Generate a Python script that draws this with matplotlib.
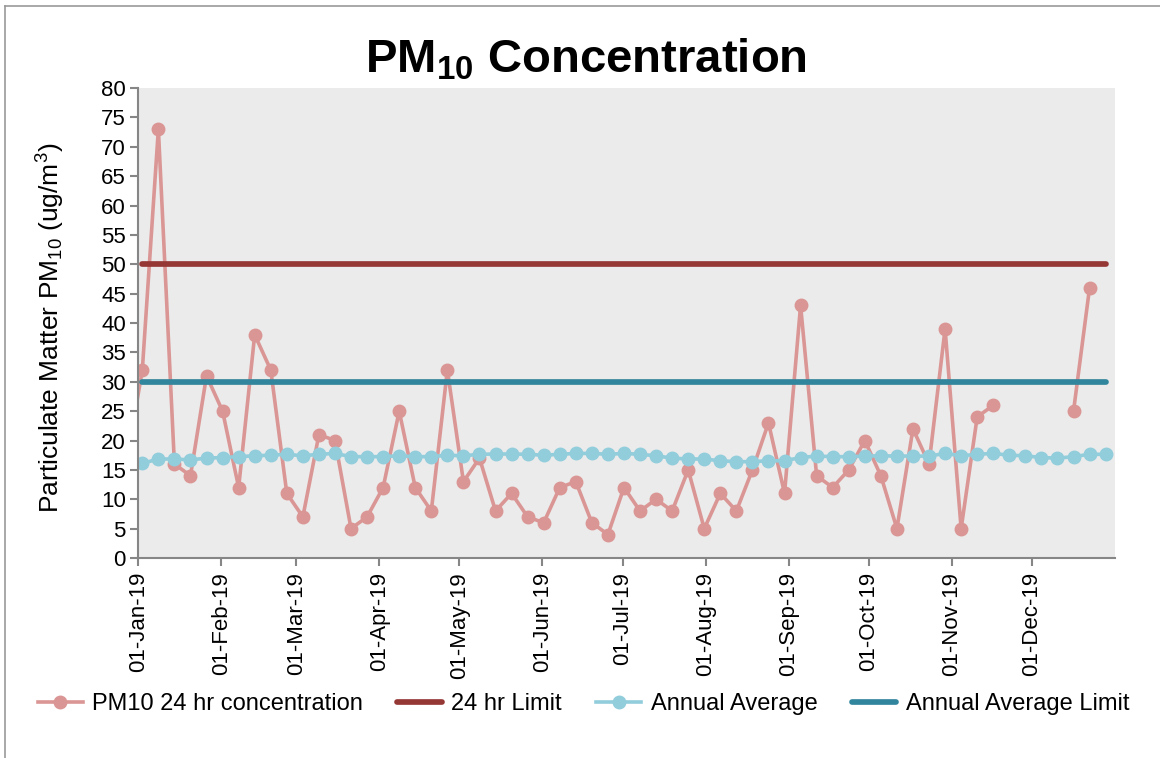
import numpy as np
import pandas as pd
import matplotlib
matplotlib.use('Agg')
import matplotlib.pyplot as plt
import matplotlib.dates as mdates
from matplotlib.lines import Line2D

plt.rcParams['font.family'] = ['Liberation Sans', 'DejaVu Sans']
plt.rcParams['mathtext.default'] = 'regular'

# sampling every 6 days, first one (Dec 2018) is off the left edge
dates = pd.date_range('2018-12-27', periods=62, freq='6D')
month_ticks = pd.date_range('2019-01-01', periods=12, freq='MS')
nan = np.nan

pm10 = [16,
        32, 73, 16, 14, 31, 25, 12, 38, 32, 11, 7, 21, 20, 5, 7, 12, 25, 12, 8, 32,
        13, 17, 8, 11, 7, 6, 12, 13, 6, 4, 12, 8, 10, 8, 15, 5, 11, 8, 15, 23,
        11, 43, 14, 12, 15, 20, 14, 5, 22, 16, 39, 5, 24, 26, nan, nan, nan, nan, 25, 46,
        nan]

annual_avg = [nan,
              16.1, 16.85, 16.85, 16.7, 17.0, 17.1, 17.25, 17.4, 17.5, 17.65, 17.4,
              17.65, 17.8, 17.25, 17.25, 17.25, 17.4, 17.25, 17.25, 17.5, 17.4,
              17.65, 17.7, 17.7, 17.65, 17.5, 17.65, 17.8, 17.8, 17.65, 17.8,
              17.65, 17.4, 17.0, 16.85, 16.85, 16.55, 16.4, 16.4, 16.55,
              16.55, 17.1, 17.35, 17.25, 17.25, 17.35, 17.4, 17.35, 17.35, 17.35,
              17.8, 17.4, 17.65, 17.8, 17.5, 17.4, 17.1, 17.0, 17.25, 17.65, 17.65]

limit_24hr = [nan] + [50] * 61
limit_annual = [nan] + [30] * 61

c_pm = '#DA9694'
c_lim = '#953735'
c_avg = '#92CDDC'
c_alim = '#31859C'
c_axis = '#868686'

x = dates + pd.Timedelta(hours=12)

fig = plt.figure(figsize=(11.6, 7.58), dpi=100)
ax = fig.add_axes([138.3 / 1160, 1 - 558 / 758, (1115 - 138.3) / 1160, 470 / 758])
ax.set_facecolor('#EBEBEB')

ax.plot(x, pm10, color=c_pm, lw=2.6, marker='o', ms=9, label='PM10 24 hr concentration')
ax.plot(x, limit_24hr, color=c_lim, lw=4.1, solid_capstyle='round', label='24 hr Limit')
ax.plot(x, annual_avg, color=c_avg, lw=2.6, marker='o', ms=9, label='Annual Average')
ax.plot(x, limit_annual, color=c_alim, lw=4.1, solid_capstyle='round', label='Annual Average Limit')

ax.set_xlim(pd.Timestamp('2019-01-01'), pd.Timestamp('2020-01-01'))
ax.set_ylim(0, 80)
ax.set_yticks(np.arange(0, 81, 5))
ax.set_xticks(month_ticks)
ax.xaxis.set_major_formatter(mdates.DateFormatter('%d-%b-%y'))

for s in ['top', 'right']:
    ax.spines[s].set_visible(False)
for s in ['left', 'bottom']:
    ax.spines[s].set_color(c_axis)
    ax.spines[s].set_linewidth(1.5)
ax.tick_params(axis='both', colors=c_axis, length=6, width=1.5, labelcolor='black')
ax.tick_params(axis='y', labelsize=16, pad=3)
ax.tick_params(axis='x', labelsize=16, labelrotation=90, pad=4)

ax.set_ylabel(r'Particulate Matter PM$_{10}$ (ug/m$^{3}$)', fontsize=19)
ax.yaxis.set_label_coords(-0.073, 0.49)

fig.text(586 / 1160, 1 - 72 / 758, r'PM$_{10}$ Concentration', fontsize=34,
         fontweight='bold', ha='center', va='baseline')

fig.legend(loc='center', bbox_to_anchor=(0.503, 1 - 704 / 758), ncol=4, frameon=False,
           fontsize=17, handlelength=1.9, handletextpad=0.4, columnspacing=1.45)

# outer chart border
fig.add_artist(Line2D([4.5 / 1160, 4.5 / 1160], [0, 1 - 6 / 758], color='#999999', lw=1.2))
fig.add_artist(Line2D([4.5 / 1160, 1], [1 - 6 / 758, 1 - 6 / 758], color='#999999', lw=1.2))

fig.savefig('out.png', dpi=100)
